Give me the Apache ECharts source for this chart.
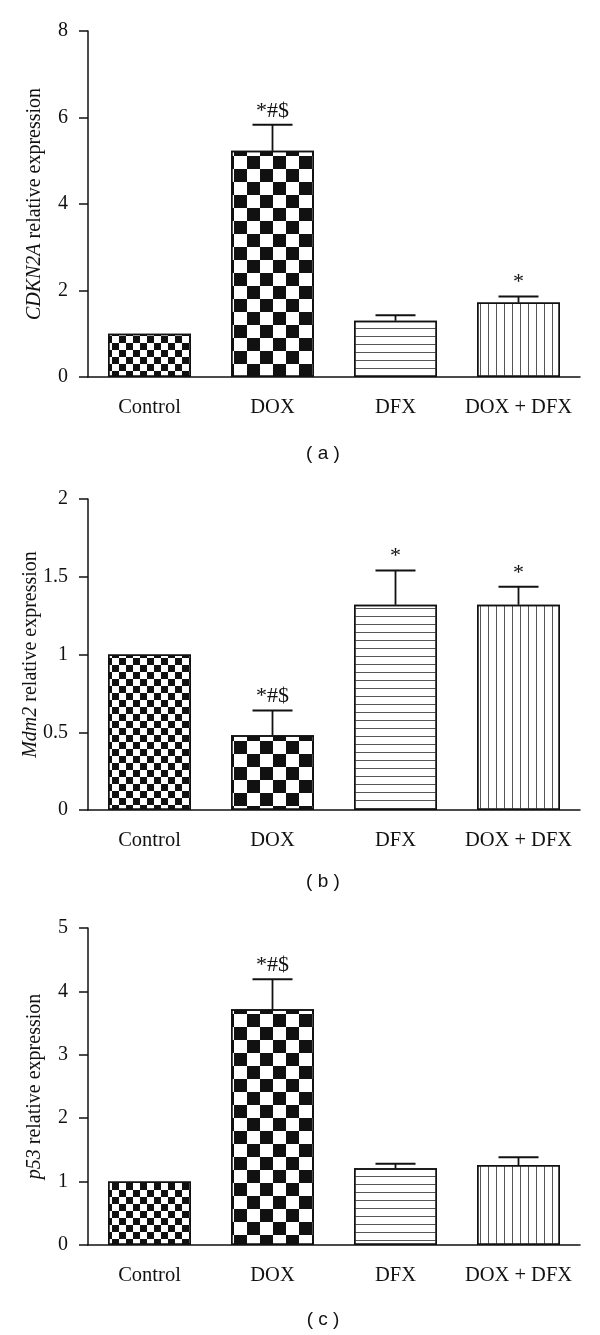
<!DOCTYPE html>
<html><head><meta charset="utf-8">
<script src="https://cdn.jsdelivr.net/npm/echarts@6/dist/echarts.min.js"></script>
<style>html,body{margin:0;padding:0;background:#fff}#c{width:600px;height:1335px}</style>
</head><body><div id="c"></div>
<script>
const categories = ['Control', 'DOX', 'DFX', 'DOX + DFX'];

const cdkn2aMean = [1.0, 5.23, 1.30, 1.72];
const cdkn2aErr  = [0, 0.60, 0.13, 0.14];
const cdkn2aSig  = ['', '*#$', '', '*'];

const mdm2Mean = [1.0, 0.48, 1.32, 1.32];
const mdm2Err  = [0, 0.16, 0.22, 0.115];
const mdm2Sig  = ['', '*#$', '*', '*'];

const p53Mean = [1.0, 3.72, 1.21, 1.26];
const p53Err  = [0, 0.47, 0.07, 0.125];
const p53Sig  = ['', '*#$', '', ''];

const yMax = [8, 2, 5];
const yInterval = [2, 0.5, 1];
const yNames = ['{i|CDKN2A} relative expression', '{i|Mdm2} relative expression', '{i|p53} relative expression'];
const panelLabels = ['( a )', '( b )', '( c )'];

const panels = [
  {mean: cdkn2aMean, err: cdkn2aErr, sig: cdkn2aSig},
  {mean: mdm2Mean, err: mdm2Err, sig: mdm2Sig},
  {mean: p53Mean, err: p53Err, sig: p53Sig}
];

const SERIF = '"Liberation Serif", "Times New Roman", serif';
const INK = '#111';

const decals = [
  {symbol: 'rect', symbolSize: 1, symbolKeepAspect: false, color: INK, dashArrayX: [[7, 7], [0, 7, 7, 0]], dashArrayY: [7, 0]},
  {symbol: 'rect', symbolSize: 1, symbolKeepAspect: false, color: INK, dashArrayX: [[13, 13], [0, 13, 13, 0]], dashArrayY: [13, 0]},
  {symbol: 'rect', symbolSize: 1, symbolKeepAspect: false, color: '#555', dashArrayX: [8, 0], dashArrayY: [1, 7]},
  {symbol: 'rect', symbolSize: 1, symbolKeepAspect: false, color: '#555', dashArrayX: [1, 7], dashArrayY: [8, 0]}
];

const grids = [
  {left: 88, right: 20, top: 31, height: 346},
  {left: 88, right: 20, top: 499, height: 311},
  {left: 88, right: 20, top: 928, height: 317}
];
const nameGaps = [43, 47, 43];
const labelPos = [[323, 454], [323, 882], [323, 1320]];

function errRender(sig) {
  return function (params, api) {
    const i = api.value(0), m = api.value(1), e = api.value(2);
    const b = api.coord([i, m]);
    const t = api.coord([i, m + e]);
    const children = [];
    if (e > 0) {
      children.push({type: 'line', shape: {x1: b[0], y1: b[1], x2: t[0], y2: t[1]}, style: {stroke: INK, lineWidth: 1.8}});
      children.push({type: 'line', shape: {x1: t[0] - 20, y1: t[1], x2: t[0] + 20, y2: t[1]}, style: {stroke: INK, lineWidth: 2}});
    }
    const s = sig[params.dataIndex];
    if (s) {
      children.push({type: 'text', x: t[0], y: t[1] - 3,
        style: {text: s, fill: INK, font: '22px ' + SERIF, align: 'center', verticalAlign: 'bottom'}});
    }
    return {type: 'group', children: children};
  };
}

const xAxis = [], yAxis = [], series = [], graphic = [];
panels.forEach((p, k) => {
  xAxis.push({
    type: 'category', gridIndex: k, data: categories,
    axisLine: {lineStyle: {color: INK, width: 1.5}},
    axisTick: {alignWithLabel: true, length: 9, lineStyle: {color: INK, width: 1.5}},
    axisLabel: {interval: 0, color: INK, fontFamily: SERIF, fontSize: 20.5, margin: 20},
    splitLine: {show: false}
  });
  yAxis.push({
    type: 'value', gridIndex: k, min: 0, max: yMax[k], interval: yInterval[k],
    name: yNames[k], nameLocation: 'middle', nameGap: nameGaps[k], nameMoveOverlap: false,
    nameTextStyle: {color: INK, fontFamily: SERIF, fontSize: 20,
      rich: {i: {fontStyle: 'italic', fontFamily: SERIF, fontSize: 20, color: INK}}},
    axisLine: {show: true, lineStyle: {color: INK, width: 1.5}},
    axisTick: {show: true, length: 9, lineStyle: {color: INK, width: 1.5}},
    axisLabel: {color: INK, fontFamily: SERIF, fontSize: 20, margin: 20},
    splitLine: {show: false}
  });
  series.push({
    type: 'bar', xAxisIndex: k, yAxisIndex: k, barWidth: 83,
    data: p.mean.map((v, i) => ({value: v, itemStyle: {decal: decals[i]}})),
    itemStyle: {color: '#fff', borderColor: INK, borderWidth: 1.5},
    emphasis: {disabled: true}, silent: true, z: 2
  });
  series.push({
    type: 'custom', xAxisIndex: k, yAxisIndex: k,
    data: p.mean.map((v, i) => [i, v, p.err[i]]),
    encode: {x: 0, y: 1},
    renderItem: errRender(p.sig), silent: true, z: 5
  });
  graphic.push({type: 'text', x: labelPos[k][0], y: labelPos[k][1],
    style: {text: panelLabels[k], fill: INK, font: '19px "Liberation Sans", Arial, sans-serif', align: 'center', verticalAlign: 'middle'}});
});

const chart = echarts.init(document.getElementById('c'), null, {renderer: 'canvas'});
chart.setOption({
  animation: false,
  backgroundColor: '#fff',
  grid: grids,
  xAxis: xAxis,
  yAxis: yAxis,
  series: series,
  graphic: graphic
});
</script>
</body></html>
